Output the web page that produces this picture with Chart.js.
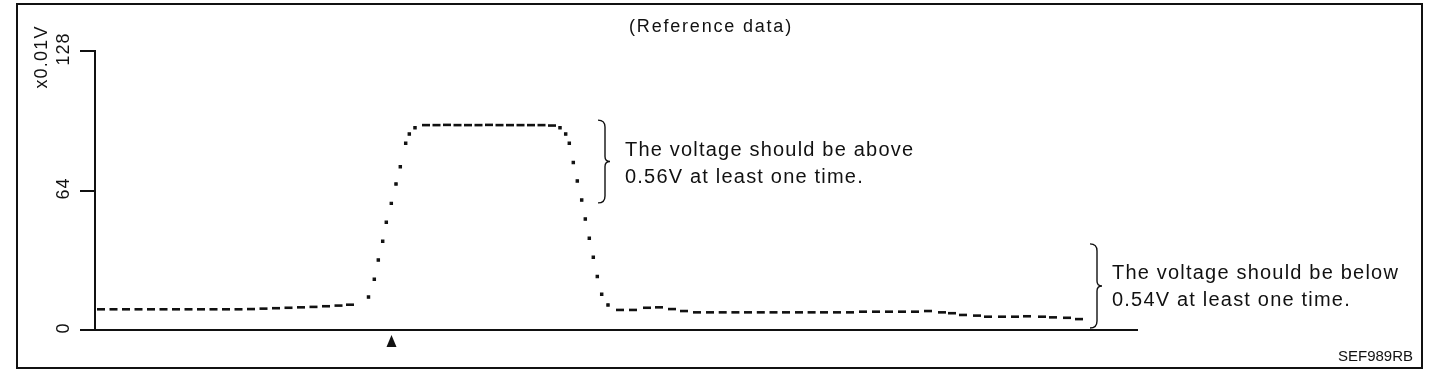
<!DOCTYPE html>
<html>
<head>
<meta charset="utf-8">
<script src="https://cdn.jsdelivr.net/npm/chart.js@4.4.1/dist/chart.umd.min.js"></script>
<style>
  html, body { margin: 0; padding: 0; background: #fff; }
  #wrap { width: 1456px; height: 382px; position: relative; }
</style>
</head>
<body>
<div id="wrap"><canvas id="c"></canvas></div>
<script>
// ---- data (x: time units, y: x0.01V) ----
const timeSamples = [
  0.6, 1.85, 3.1, 4.35, 5.6, 6.85, 8.1, 9.35, 10.6, 11.85, 13.1, 14.35, 15.6, 16.85, 18.1, 19.35, 20.6, 21.85, 23.1, 24.35, 25.5,
  27.35, 27.93, 28.33, 28.77, 29.13, 29.63, 30.1, 30.53, 31.07, 31.43, 32.0,
  33.1, 34.15, 35.2, 36.25, 37.3, 38.35, 39.4, 40.45, 41.5, 42.55, 43.6, 44.65, 45.7,
  46.5, 47.07, 47.43, 47.83, 48.23, 48.67, 49.03, 49.43, 49.83, 50.23, 50.67,
  51.3, 52.5, 53.8, 55.2, 56.4, 57.7, 58.9, 60.2, 61.5, 62.77, 64.04, 65.3, 66.58, 67.85, 69.1, 70.4, 71.66, 72.9, 74.2, 75.5,
  76.8, 78.1, 79.4, 80.7, 82.0, 83.3, 84.7, 85.7, 86.8, 88.2, 89.3, 90.7, 92.0, 93.2, 94.7, 95.8, 97.2, 98.4
];
const voltageSamples = [
  9.5, 9.5, 9.5, 9.5, 9.5, 9.5, 9.5, 9.5, 9.5, 9.5, 9.5, 9.5, 9.6, 9.8, 10.0, 10.2, 10.4, 10.6, 10.9, 11.2, 11.6,
  15.1, 23.3, 32.1, 40.7, 49.4, 58.1, 67.0, 74.9, 85.7, 89.9, 92.8,
  94.0, 94.0, 94.1, 94.0, 94.0, 94.0, 94.1, 94.0, 94.0, 94.0, 94.0, 94.0, 93.8,
  92.8, 89.9, 85.7, 76.8, 68.4, 59.6, 50.9, 42.1, 33.4, 24.5, 16.4,
  11.5, 9.2, 9.2, 10.2, 10.4, 9.6, 8.7, 8.1, 8.1, 8.1, 8.1, 8.1, 8.1, 8.1, 8.1, 8.1, 8.1, 8.1, 8.1, 8.1,
  8.4, 8.4, 8.4, 8.4, 8.4, 8.7, 8.1, 7.7, 6.9, 6.6, 6.1, 6.1, 6.1, 6.3, 6.1, 5.8, 5.6, 5.0
];
const yTickValues = [0, 64, 128];
const yTickLabels = ['0', '64', '128'];
const yUnitLabel = 'x0.01V';
const titleText = '(Reference data)';
const eventTime = 29.65;               // ▲ marker position on the time axis
const upperBand = [58.3, 96.3];        // brace: "above 0.56V" region
const lowerBand = [0.9, 39.5];         // brace: "below 0.54V" region
const upperBraceTime = 51.0;
const lowerBraceTime = 100.2;
const upperNote = ['The voltage should be above', '0.56V at least one time.'];
const lowerNote = ['The voltage should be below', '0.54V at least one time.'];
const figureCode = 'SEF989RB';

const points = timeSamples.map((t, i) => ({ x: t, y: voltageSamples[i] }));

function slopeAt(i) {
  let s = 0;
  if (i > 0) s = Math.max(s, Math.abs((voltageSamples[i] - voltageSamples[i-1]) / (timeSamples[i] - timeSamples[i-1])));
  if (i < timeSamples.length - 1) s = Math.max(s, Math.abs((voltageSamples[i+1] - voltageSamples[i]) / (timeSamples[i+1] - timeSamples[i])));
  return s;
}
const steep = (ctx) => slopeAt(ctx.dataIndex) > 3;

const FONT = '"Liberation Sans", Arial, Helvetica, sans-serif';

function txt(ctx, s, x, y, size, spacing, align) {
  ctx.save();
  ctx.font = size + 'px ' + FONT;
  ctx.fillStyle = '#111';
  ctx.textBaseline = 'alphabetic';
  try { ctx.letterSpacing = spacing + 'px'; } catch (e) {}
  if (align === 'center' || align === 'right') {
    const w = ctx.measureText(s).width;
    x = align === 'center' ? x - w / 2 : x - w;
  }
  ctx.textAlign = 'left';
  ctx.fillText(s, x, y);
  ctx.restore();
}

function brace(ctx, x, yTop, yBot) {
  const mid = (yTop + yBot) / 2;
  ctx.save();
  ctx.strokeStyle = '#111';
  ctx.lineWidth = 1.4;
  ctx.beginPath();
  ctx.moveTo(x - 7, yTop);
  ctx.quadraticCurveTo(x, yTop, x, yTop + 7);
  ctx.lineTo(x, mid - 5);
  ctx.quadraticCurveTo(x, mid, x + 5, mid);
  ctx.quadraticCurveTo(x, mid, x, mid + 5);
  ctx.lineTo(x, yBot - 7);
  ctx.quadraticCurveTo(x, yBot, x - 7, yBot);
  ctx.stroke();
  ctx.restore();
}

const decor = {
  id: 'decor',
  afterDraw(chart) {
    const ctx = chart.ctx;
    const xs = chart.scales.x, ys = chart.scales.y;
    // frame
    ctx.save();
    ctx.strokeStyle = '#111';
    ctx.lineWidth = 2;
    ctx.strokeRect(17, 4, 1405, 364);
    ctx.restore();
    // title
    txt(ctx, titleText, 711, 32, 18, 1.8, 'center');
    // y tick labels (rotated)
    yTickValues.forEach((v, i) => {
      const y = ys.getPixelForValue(v);
      ctx.save();
      ctx.translate(69, y);
      ctx.rotate(-Math.PI / 2);
      ctx.font = '18px ' + FONT;
      try { ctx.letterSpacing = '1px'; } catch (e) {}
      const w = ctx.measureText(yTickLabels[i]).width;
      ctx.fillStyle = '#111';
      ctx.fillText(yTickLabels[i], -w / 2 + 2, 0);
      ctx.restore();
    });
    // y unit label
    ctx.save();
    ctx.translate(47, ys.top + 6);
    ctx.rotate(-Math.PI / 2);
    ctx.font = '18px ' + FONT;
    try { ctx.letterSpacing = '1.2px'; } catch (e) {}
    const wu = ctx.measureText(yUnitLabel).width;
    ctx.fillStyle = '#111';
    ctx.fillText(yUnitLabel, -wu / 2, 0);
    ctx.restore();
    // event marker
    const ex = xs.getPixelForValue(eventTime);
    ctx.save();
    ctx.fillStyle = '#111';
    ctx.beginPath();
    ctx.moveTo(ex, ys.bottom + 5);
    ctx.lineTo(ex + 5, ys.bottom + 17);
    ctx.lineTo(ex - 5, ys.bottom + 17);
    ctx.closePath();
    ctx.fill();
    ctx.restore();
    // braces and notes
    const bx1 = xs.getPixelForValue(upperBraceTime);
    const t1 = ys.getPixelForValue(upperBand[1]), b1 = ys.getPixelForValue(upperBand[0]);
    brace(ctx, bx1, t1, b1);
    const m1 = (t1 + b1) / 2;
    txt(ctx, upperNote[0], bx1 + 20, m1 - 6, 20, 1.2, 'left');
    txt(ctx, upperNote[1], bx1 + 20, m1 + 21, 20, 1.2, 'left');
    const bx2 = xs.getPixelForValue(lowerBraceTime);
    const t2 = ys.getPixelForValue(lowerBand[1]), b2 = ys.getPixelForValue(lowerBand[0]);
    brace(ctx, bx2, t2, b2);
    const m2 = (t2 + b2) / 2;
    txt(ctx, lowerNote[0], bx2 + 15, m2 - 7, 20, 1.2, 'left');
    txt(ctx, lowerNote[1], bx2 + 15, m2 + 20, 20, 1.2, 'left');
    // figure code
    txt(ctx, figureCode, 1413, 361, 15, 0, 'right');
  }
};

new Chart(document.getElementById('c'), {
  type: 'scatter',
  data: {
    datasets: [{
      data: points,
      showLine: false,
      pointStyle: (c) => steep(c) ? 'rect' : 'line',
      radius: (c) => steep(c) ? 1.6 : 4,
      hoverRadius: (c) => steep(c) ? 1.6 : 4,
      borderWidth: (c) => steep(c) ? 1.2 : 2.6,
      borderColor: '#111',
      backgroundColor: '#111'
    }]
  },
  options: {
    responsive: true,
    maintainAspectRatio: false,
    animation: false,
    events: [],
    layout: { padding: { left: 0, top: 51, right: 319, bottom: 52 } },
    plugins: { legend: { display: false }, tooltip: { enabled: false }, title: { display: false } },
    scales: {
      x: {
        type: 'linear', min: 0, max: 104.2,
        ticks: { display: false },
        grid: { display: true, drawOnChartArea: false, drawTicks: false },
        border: { display: true, color: '#111', width: 2 },
        afterFit(s) { s.height = 0; }
      },
      y: {
        type: 'linear', min: 0, max: 128,
        afterBuildTicks(s) { s.ticks = yTickValues.map(v => ({ value: v })); },
        ticks: { display: false },
        grid: { display: true, drawOnChartArea: false, drawTicks: true, tickLength: 15, color: '#111', lineWidth: 2 },
        border: { display: true, color: '#111', width: 2 },
        afterFit(s) { s.width = 95; }
      }
    }
  },
  plugins: [decor]
});
</script>
</body>
</html>
